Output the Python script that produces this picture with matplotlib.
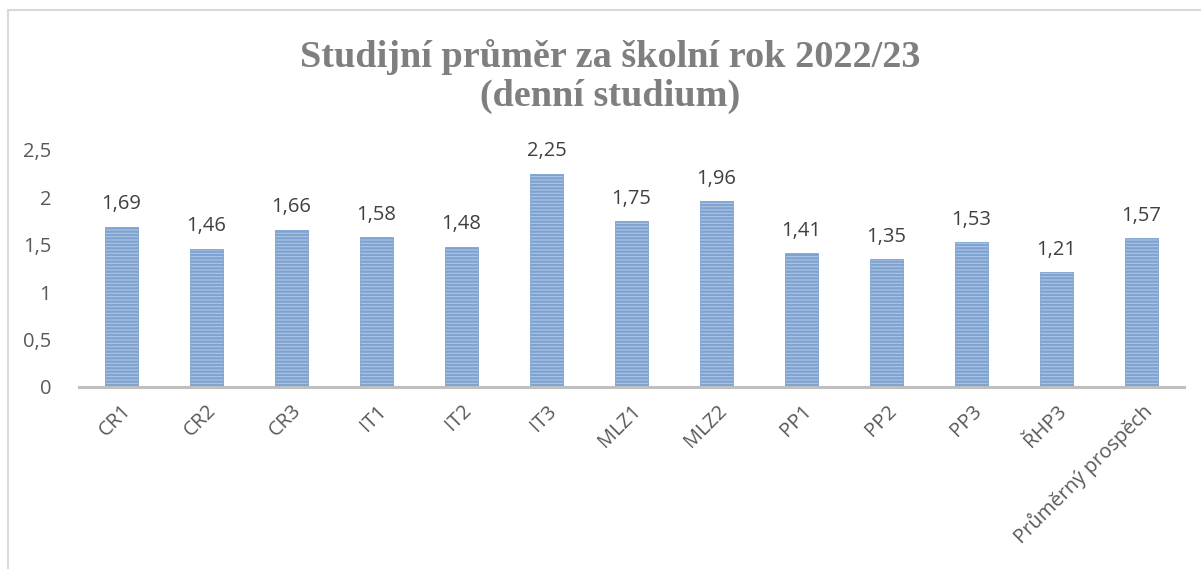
import matplotlib.pyplot as plt
import numpy as np
from matplotlib.patches import Rectangle

# data
categories = ["CR1", "CR2", "CR3", "IT1", "IT2", "IT3", "MLZ1", "MLZ2",
              "PP1", "PP2", "PP3", "ŘHP3", "Průměrný prospěch"]
values = [1.69, 1.46, 1.66, 1.58, 1.48, 2.25, 1.75, 1.96,
          1.41, 1.35, 1.53, 1.21, 1.57]
y_ticks = [0, 0.5, 1, 1.5, 2, 2.5]
y_tick_labels = ["0", "0,5", "1", "1,5", "2", "2,5"]
title = "Studijní průměr za školní rok 2022/23\n(denní studium)"

plt.rcParams['font.family'] = ['Open Sans', 'DejaVu Sans']
plt.rcParams['hatch.linewidth'] = 1.7
plt.rcParams['hatch.color'] = '#3f70ae'

fig = plt.figure(figsize=(12.01, 5.69), dpi=100)
ax = fig.add_axes([0.0658, 0.3199, 0.92, 0.4165])

x = np.arange(len(categories))
bars = ax.bar(x, values, width=0.39, color='#b3cae8', edgecolor='#7fa3d0',
              linewidth=0.6, hatch='-----')

for xi, v in zip(x, values):
    ax.text(xi, v + 0.13, f"{v:.2f}".replace(".", ","), ha='center', va='bottom',
            fontsize=14.5, color='#404040')

ax.set_xlim(-0.5, len(categories) - 0.5)
ax.set_ylim(0, 2.5)
ax.set_yticks(y_ticks)
ax.set_yticklabels(y_tick_labels, fontsize=14.5, color='#595959')
ax.set_xticks(x)
ax.set_xticklabels(categories, rotation=45, ha='right', rotation_mode='anchor',
                   fontsize=14.5, color='#595959')
ax.tick_params(axis='both', length=0)
ax.tick_params(axis='y', pad=20)
ax.tick_params(axis='x', pad=10)

for s in ['top', 'right', 'left']:
    ax.spines[s].set_visible(False)
ax.spines['bottom'].set_color('#bfbfbf')
ax.spines['bottom'].set_linewidth(2.2)

fig.text(0.508, 0.866, title, ha='center', va='center', fontsize=27.5,
         fontweight='bold', family='Liberation Serif', color='#7f7f7f',
         linespacing=1.14)

# chart border (only top/left visible)
fig.patches.append(Rectangle((8 / 1201, -0.1), 1.2, 1.1 - 10 / 569,
                             transform=fig.transFigure, fill=False,
                             edgecolor='#d9d9d9', linewidth=1.5))

fig.savefig("out.png", dpi=100)
